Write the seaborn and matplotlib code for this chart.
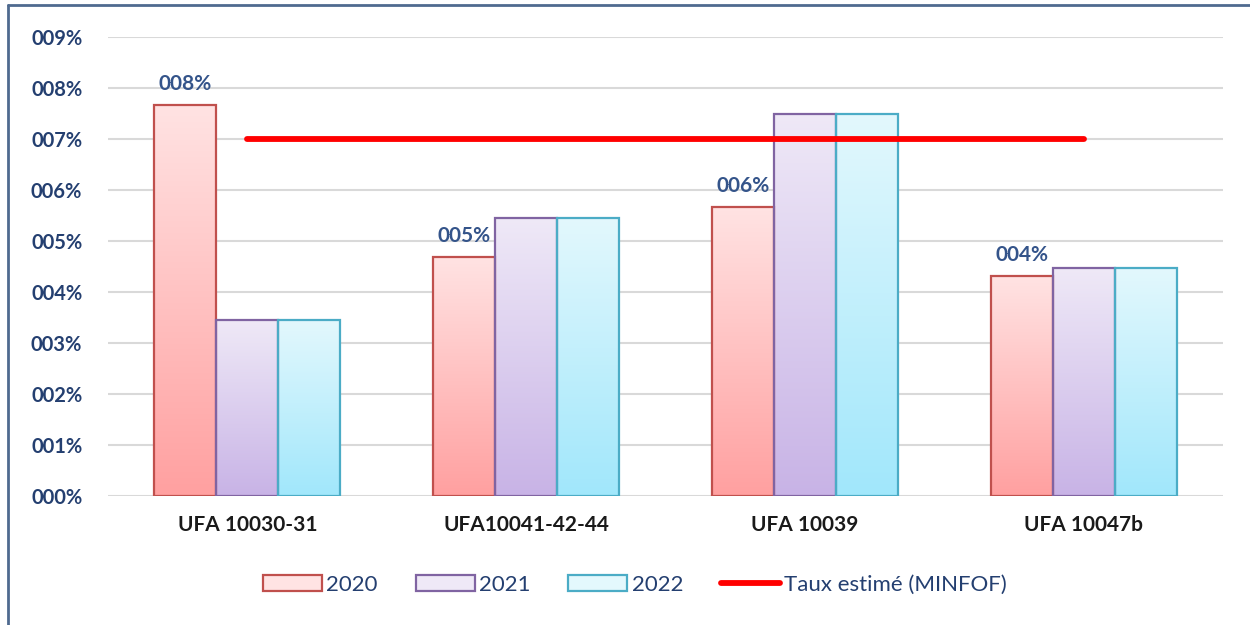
import numpy as np
import pandas as pd
import matplotlib
matplotlib.use("Agg")
import matplotlib.pyplot as plt
import seaborn as sns
from matplotlib.colors import LinearSegmentedColormap
from matplotlib.patches import Patch
from matplotlib.lines import Line2D

# ---- data (in %) ----
categories = ["UFA 10030-31", "UFA10041-42-44", "UFA 10039", "UFA 10047b"]
years = ["2020", "2021", "2022"]
val_2020 = [7.67, 4.69, 5.67, 4.31]
val_2021 = [3.45, 5.46, 7.50, 4.48]
val_2022 = [3.45, 5.46, 7.50, 4.48]
taux_estime = [7.0, 7.0, 7.0, 7.0]

# gradient colours: (top, bottom, edge)
STYLES = {
    "2020": ("#FFE3E3", "#FFA0A0", "#C0504D"),
    "2021": ("#EFE9F7", "#C8B3E6", "#8064A2"),
    "2022": ("#E3F8FD", "#A1E7FB", "#4BACC6"),
}
TXT_BLUE = "#243F70"

df = pd.DataFrame({
    "ufa": categories * 3,
    "annee": [y for y in years for _ in categories],
    "taux": val_2020 + val_2021 + val_2022,
})

sns.set_style("white")
plt.rcParams["font.family"] = ["Lato", "DejaVu Sans"]

fig = plt.figure(figsize=(12.5, 6.25), dpi=100)
ax = fig.add_axes([0.0864, 0.2064, 0.892, 0.7344])

sns.barplot(data=df, x="ufa", y="taux", hue="annee", order=categories,
            hue_order=years, width=0.667, ax=ax, legend=False, zorder=2)

sns.lineplot(x=categories, y=taux_estime, sort=False, color="#FF0000",
             linewidth=4.2, ax=ax, zorder=4)

# gradient fills on each bar
grad = np.linspace(0, 1, 256).reshape(-1, 1)
for year, cont in zip(years, ax.containers):
    top, bot, edge = STYLES[year]
    cmap = LinearSegmentedColormap.from_list(year, [bot, top])
    for bar in cont:
        x0, y0 = bar.get_x(), bar.get_y()
        w, h = bar.get_width(), bar.get_height()
        im = ax.imshow(grad, extent=[x0, x0 + w, y0, y0 + h], origin="lower",
                       aspect="auto", cmap=cmap, zorder=2.5)
        im.set_clip_path(bar)
        bar.set_facecolor("none")
        bar.set_edgecolor(edge)
        bar.set_linewidth(1.6)
        bar.set_zorder(3)

ax.set_xlim(-0.5, 3.5)
ax.set_ylim(0, 9)

# labels on the 2020 bars only
for bar, v in zip(ax.containers[0], val_2020):
    ax.text(bar.get_x() + bar.get_width() / 2, v + 0.22, f"{round(v):03d}%",
            ha="center", va="bottom", fontsize=15, fontweight="bold",
            color="#34548A", zorder=5)

ax.set_yticks(range(10))
ax.set_yticklabels([f"{i:03d}%" for i in range(10)])
ax.grid(axis="y", color="#D9D9D9", linewidth=1.5, zorder=0)
ax.set_axisbelow(True)
for s in ax.spines.values():
    s.set_visible(False)
ax.tick_params(axis="y", length=0, pad=18.5, labelsize=14.5, labelcolor=TXT_BLUE)
ax.tick_params(axis="x", length=0, pad=14, labelsize=15, labelcolor="#1A1A1A")
for t in ax.get_yticklabels() + ax.get_xticklabels():
    t.set_fontweight("bold")
ax.set_xlabel("")
ax.set_ylabel("")

handles = [Patch(facecolor=STYLES[y][0], edgecolor=STYLES[y][2], linewidth=1.6)
           for y in years]
handles.append(Line2D([0], [0], color="#FF0000", linewidth=4.2))
fig.legend(handles, years + ["Taux estimé (MINFOF)"], loc="center",
           bbox_to_anchor=(0.508, 0.064), ncol=4, frameon=False, fontsize=16,
           labelcolor=TXT_BLUE, handlelength=2.65, handleheight=0.7,
           handletextpad=0.2, columnspacing=1.7)

# chart-area border (left and top visible)
fig.add_artist(Line2D([0.0064, 0.0064], [0, 0.992], color="#4F6A8F", linewidth=2,
                      transform=fig.transFigure))
fig.add_artist(Line2D([0.0064, 1], [0.992, 0.992], color="#4F6A8F", linewidth=2,
                      transform=fig.transFigure))

fig.savefig("out.png", dpi=100)
